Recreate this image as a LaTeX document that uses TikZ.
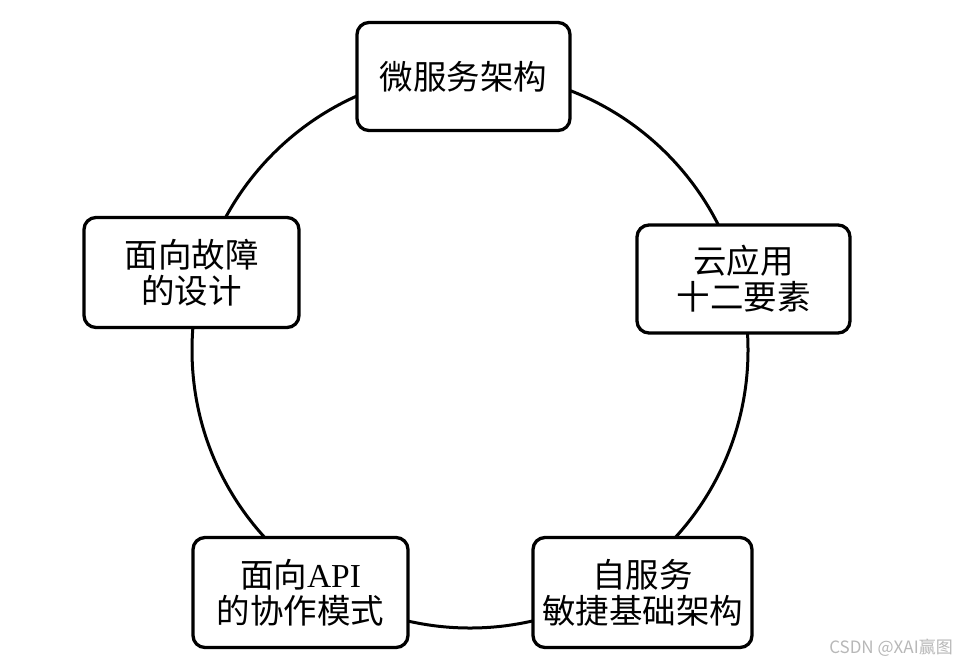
\documentclass[tikz,border=0pt]{standalone}
\usepackage{fontspec}
\setmainfont{Liberation Serif}
\newfontfamily\cjk{Noto Sans CJK SC}
\begin{document}
\begin{tikzpicture}[x=1pt,y=-1pt,
  box/.style={draw=black, line width=3.3pt, rounded corners=12pt, fill=white,
    align=center, inner sep=0pt, text=black,
    font=\cjk\fontsize{33.5}{36}\selectfont},
  ring/.style={draw=black, line width=3pt}]
\useasboundingbox (0,0) rectangle (965,665);
\fill[white] (0,0) rectangle (965,665);
\draw[ring] (470,350) circle[radius=278pt];
\node[box, minimum width=213pt, minimum height=108pt] (micro) at (463.5,76.5) {\raisebox{-4pt}{微服务架构}};
\node[box, minimum width=213pt, minimum height=108pt] (cloud) at (743.5,279) {云应用\\十二要素};
\node[box, minimum width=219pt, minimum height=110pt] (self) at (642.5,592.5) {自服务\\敏捷基础架构};
\node[box, minimum width=215pt, minimum height=110pt] (api) at (300.5,592.5) {面向{\rmfamily API}\\的协作模式};
\node[box, minimum width=215pt, minimum height=110pt] (fault) at (191.5,272.5) {面向故障\\的设计};
\node[font=\cjk\fontsize{17}{20}\selectfont, text=black!28, anchor=center] (mark) at (891,648) {CSDN @XAI赢图};
\end{tikzpicture}
\end{document}
